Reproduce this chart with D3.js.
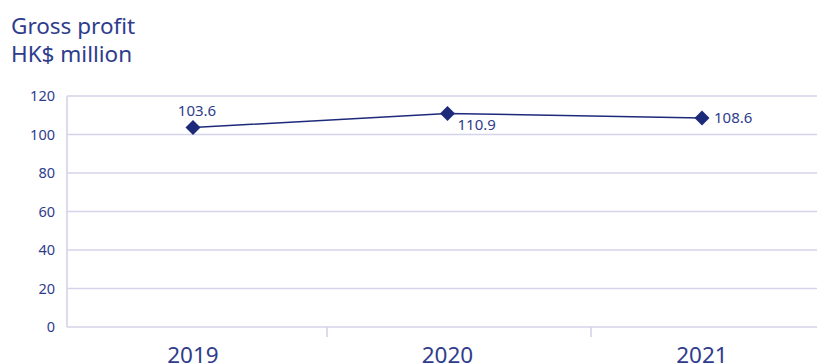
<!DOCTYPE html>
<html lang="en">
<head>
    <meta charset="UTF-8">
    <title>Gross profit</title>
    <style>
        body {
            margin: 0;
            background: #fff;
            font-family: "Noto Sans", Arial, sans-serif;
        }
        svg {
            display: block;
        }
    </style>
</head>
<body>
    <svg width="817" height="364"></svg>

    <script src="https://d3js.org/d3.v7.min.js"></script>
    <script>
        // chart data
        const years = ["2019", "2020", "2021"];
        const grossProfit = [103.6, 110.9, 108.6];
        const yTicks = [0, 20, 40, 60, 80, 100, 120];
        const titleLines = ["Gross profit", "HK$ million"];

        const svg = d3.select("svg");
        const gridColor = "#d3d3ea";
        const textColor = "#2f3c8c";
        const lineColor = "#1d2a7a";

        const plotLeft = 67, plotTop = 96, plotBottom = 327, plotRight = 817;

        const y = d3.scaleLinear().domain([0, 120]).range([plotBottom, plotTop]);
        // markers sit on a point scale, the small axis ticks on band boundaries
        const x = d3.scalePoint().domain(years).range([193, 702]);
        const xBand = d3.scaleBand().domain(years).range([63, 855]);

        // title
        svg.append("g")
            .selectAll("text")
            .data(titleLines)
            .enter()
            .append("text")
            .attr("x", 11)
            .attr("y", (d, i) => 34 + i * 28)
            .style("font-size", "22.5px")
            .style("fill", textColor)
            .text(d => d);

        // gridlines
        svg.append("g")
            .selectAll("line")
            .data(yTicks)
            .enter()
            .append("line")
            .attr("x1", plotLeft)
            .attr("x2", plotRight)
            .attr("y1", d => y(d))
            .attr("y2", d => y(d))
            .style("stroke", gridColor)
            .style("stroke-width", 1.6);

        // left axis line
        svg.append("line")
            .attr("x1", plotLeft).attr("x2", plotLeft)
            .attr("y1", y(120)).attr("y2", y(0))
            .style("stroke", gridColor)
            .style("stroke-width", 1.6);

        // y tick labels
        svg.append("g")
            .selectAll("text")
            .data(yTicks)
            .enter()
            .append("text")
            .attr("x", 55)
            .attr("y", d => y(d) + 5)
            .attr("text-anchor", "end")
            .style("font-size", "14.5px")
            .style("fill", textColor)
            .text(d => d);

        // x ticks between categories
        svg.append("g")
            .selectAll("line")
            .data(years.slice(1))
            .enter()
            .append("line")
            .attr("x1", d => xBand(d))
            .attr("x2", d => xBand(d))
            .attr("y1", plotBottom)
            .attr("y2", plotBottom + 10)
            .style("stroke", gridColor)
            .style("stroke-width", 1.6);

        // year labels
        svg.append("g")
            .selectAll("text")
            .data(years)
            .enter()
            .append("text")
            .attr("x", d => x(d))
            .attr("y", 363)
            .attr("text-anchor", "middle")
            .style("font-size", "22.5px")
            .style("fill", textColor)
            .text(d => d);

        const points = years.map((yr, i) => ({ year: yr, value: grossProfit[i] }));

        svg.append("path")
            .datum(points)
            .attr("d", d3.line().x(d => x(d.year)).y(d => y(d.value)))
            .style("fill", "none")
            .style("stroke", lineColor)
            .style("stroke-width", 1.5);

        svg.append("g")
            .selectAll("path")
            .data(points)
            .enter()
            .append("path")
            .attr("d", d3.symbol().type(d3.symbolSquare).size(112))
            .attr("transform", d => `translate(${x(d.year)},${y(d.value)}) rotate(45)`)
            .style("fill", lineColor);

        // value labels: above, below-right, right
        const labelOffsets = [[4, -12, "middle"], [10, 16.5, "start"], [12, 5, "start"]];
        svg.append("g")
            .selectAll("text")
            .data(points)
            .enter()
            .append("text")
            .attr("x", (d, i) => x(d.year) + labelOffsets[i][0])
            .attr("y", (d, i) => y(d.value) + labelOffsets[i][1])
            .attr("text-anchor", (d, i) => labelOffsets[i][2])
            .style("font-size", "15px")
            .style("fill", textColor)
            .text(d => d.value.toFixed(1));
    </script>
</body>
</html>
